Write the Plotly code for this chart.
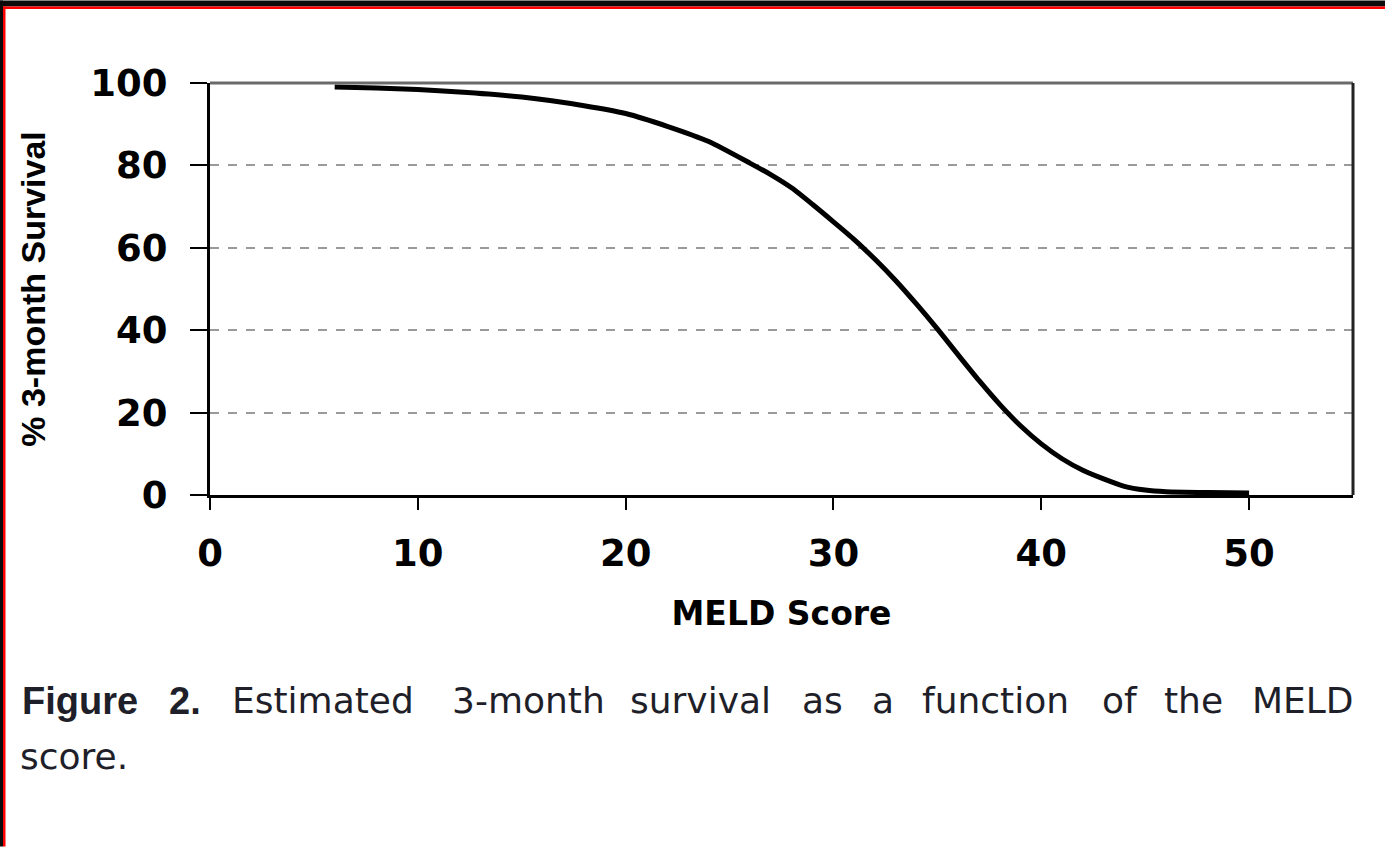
import plotly.graph_objects as go

# ---- data ----
meld_score = [6, 8, 10, 12, 15, 18, 20, 22, 24, 26, 27, 28, 29, 30, 31, 32, 33, 34, 35, 36, 37, 38, 39, 40, 41, 42, 43, 44, 45, 46, 48, 50]
survival_pct = [99.0, 98.8, 98.4, 97.8, 96.6, 94.5, 92.6, 89.5, 85.8, 80.5, 77.7, 74.5, 70.5, 66.3, 62.0, 57.2, 52.0, 46.3, 40.3, 34.0, 27.8, 22.0, 16.8, 12.4, 8.8, 6.0, 3.9, 2.1, 1.2, 0.8, 0.6, 0.5]
x_ticks = [0, 10, 20, 30, 40, 50]
y_ticks = [0, 20, 40, 60, 80, 100]
x_title = "MELD Score"
y_title = "% 3-month Survival"
caption_bold = ["Figure", "2."]
caption_words = ["Estimated", "3-month", "survival", "as", "a", "function", "of", "the", "MELD"]
caption_line2 = "score."

W, H = 1385, 847
L, R, T, B = 210, 1353, 82.5, 495  # plot area in pixels


def px(xpix):
    return (xpix - L) / (R - L)


def py(ypix):
    return (B - ypix) / (B - T)


fig = go.Figure()
fig.add_trace(go.Scatter(
    x=meld_score, y=survival_pct, mode="lines",
    line=dict(color="black", width=5, shape="spline", smoothing=0.6),
    showlegend=False, hoverinfo="skip",
))

tick_font = dict(family="DejaVu Sans", size=37, color="black", weight="bold")

fig.update_layout(
    width=W, height=H,
    margin=dict(l=L, r=W - R, t=T, b=H - B, autoexpand=False),
    paper_bgcolor="white", plot_bgcolor="white",
    showlegend=False,
    xaxis=dict(
        range=[0, 55], tickvals=x_ticks, ticktext=[str(v) for v in x_ticks],
        showgrid=False, zeroline=False,
        showline=True, linecolor="black", linewidth=3,
        ticks="outside", ticklen=12, tickwidth=2, tickcolor="black",
        tickfont=tick_font, ticklabelstandoff=12,
        title=dict(text=x_title, font=dict(family="DejaVu Sans", size=33, color="black", weight="bold"), standoff=28),
        automargin=False, fixedrange=True,
    ),
    yaxis=dict(
        range=[0, 100], tickvals=y_ticks, ticktext=[str(v) for v in y_ticks],
        showgrid=True, gridcolor="#9a9a9a", gridwidth=1.5, griddash="dash",
        zeroline=False,
        showline=True, linecolor="black", linewidth=3,
        ticks="outside", ticklen=17, tickwidth=2, tickcolor="black",
        tickfont=tick_font, ticklabelstandoff=15,
        title=dict(text=y_title, font=dict(family="Liberation Sans", size=34, color="black", weight="bold"), standoff=35),
        automargin=False, fixedrange=True,
    ),
)

shapes = []
# top (gray) and right (dark) borders of the plot frame
shapes.append(dict(type="line", xref="paper", yref="paper", x0=0, x1=1, y0=1, y1=1,
                   line=dict(color="#6a6a6a", width=3)))
shapes.append(dict(type="line", xref="paper", yref="paper", x0=1, x1=1, y0=0, y1=1,
                   line=dict(color="#222222", width=3)))
# outer black / red page frame (top and left)
shapes.append(dict(type="rect", xref="paper", yref="paper", x0=px(0), x1=px(W), y0=py(0), y1=py(6),
                   fillcolor="#0a0a0a", line=dict(width=0), layer="above"))
shapes.append(dict(type="rect", xref="paper", yref="paper", x0=px(0), x1=px(3), y0=py(0), y1=py(H),
                   fillcolor="#0a0a0a", line=dict(width=0), layer="above"))
shapes.append(dict(type="rect", xref="paper", yref="paper", x0=px(3), x1=px(W), y0=py(6), y1=py(8.5),
                   fillcolor="#ff0000", line=dict(width=0), layer="above"))
shapes.append(dict(type="rect", xref="paper", yref="paper", x0=px(3), x1=px(5.5), y0=py(6), y1=py(H),
                   fillcolor="#ff0000", line=dict(width=0), layer="above"))
fig.update_layout(shapes=shapes)

# caption, laid out word by word to mimic justified text
cap_color = "#1f1f2a"
annotations = []
bold_pos = [20, 167]
for word, xp in zip(caption_bold, bold_pos):
    annotations.append(dict(text=word, xref="paper", yref="paper", x=px(xp), y=py(701),
                            xanchor="left", yanchor="middle", showarrow=False,
                            font=dict(family="Liberation Sans", size=38, color=cap_color, weight="bold")))
word_pos = [230, 450, 628, 800, 870, 920, 1100, 1162, 1250]
for word, xp in zip(caption_words, word_pos):
    annotations.append(dict(text=word, xref="paper", yref="paper", x=px(xp), y=py(701),
                            xanchor="left", yanchor="middle", showarrow=False,
                            font=dict(family="DejaVu Sans", size=36, color=cap_color)))
annotations.append(dict(text=caption_line2, xref="paper", yref="paper", x=px(18), y=py(757),
                        xanchor="left", yanchor="middle", showarrow=False,
                        font=dict(family="DejaVu Sans", size=36, color=cap_color)))
fig.update_layout(annotations=annotations)

fig.write_html("out.html", config={"displayModeBar": False},
               post_script="document.body.style.margin='0';document.body.style.overflow='hidden';")
